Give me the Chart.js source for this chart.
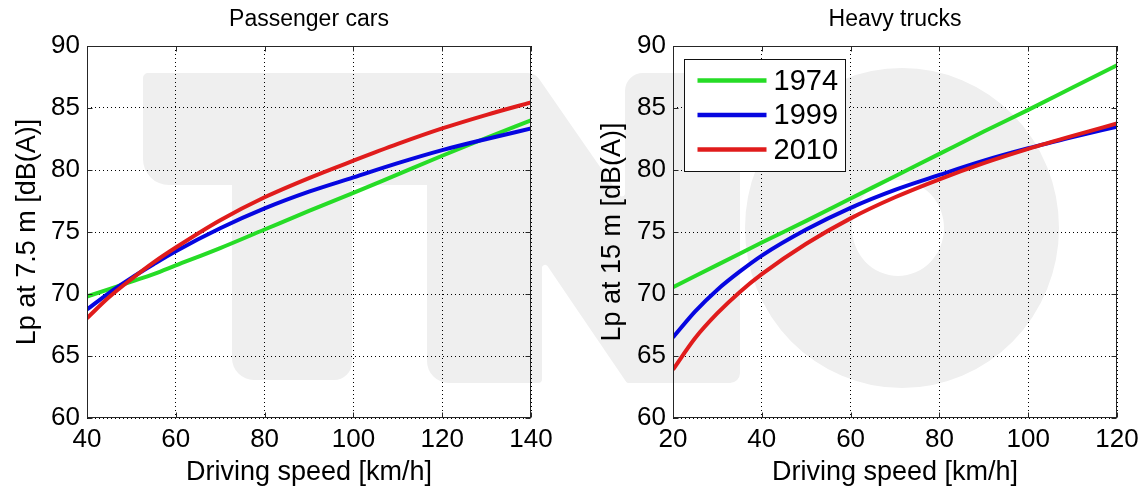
<!DOCTYPE html>
<html><head><meta charset="utf-8">
<script src="https://cdn.jsdelivr.net/npm/chart.js@4.4.1/dist/chart.umd.min.js"></script>
<style>
html,body{margin:0;padding:0;background:#fff;overflow:hidden;}
#wrap{position:relative;width:1142px;height:490px;}
canvas{position:absolute;top:0;}
</style></head><body>
<div id="wrap">
<canvas id="c1" width="571" height="490" style="left:0px"></canvas>
<canvas id="c2" width="571" height="490" style="left:571px"></canvas>
</div>
<script>
// ---------------- data ----------------
const seriesLabels = ['1974', '1999', '2010'];

const carSpeeds = [40, 45, 50, 55, 60, 70, 80, 90, 100, 110, 120, 130, 140];
const car1974 = [69.8, 70.4, 71.0, 71.6, 72.3, 73.7, 75.2, 76.7, 78.15, 79.65, 81.15, 82.6, 84.0];
const car1999 = [68.75, 70.1, 71.3, 72.4, 73.45, 75.3, 76.9, 78.25, 79.4, 80.55, 81.6, 82.5, 83.35];
const car2010 = [68.05, 69.75, 71.2, 72.55, 73.75, 75.95, 77.8, 79.35, 80.75, 82.1, 83.35, 84.45, 85.45];

const truckSpeeds = [20, 25, 30, 35, 40, 50, 60, 70, 80, 90, 100, 110, 120];
const truck1974 = [70.55, 71.45, 72.35, 73.25, 74.15, 75.9, 77.7, 79.5, 81.3, 83.1, 84.85, 86.65, 88.45];
const truck1999 = [66.5, 68.6, 70.35, 71.8, 73.1, 75.2, 76.95, 78.4, 79.6, 80.75, 81.75, 82.65, 83.5];
const truck2010 = [63.9, 66.45, 68.45, 70.15, 71.6, 74.05, 76.1, 77.8, 79.25, 80.55, 81.7, 82.75, 83.75];

const carXTicks = [40, 60, 80, 100, 120, 140];
const truckXTicks = [20, 40, 60, 80, 100, 120];
const yTicks = [60, 65, 70, 75, 80, 85, 90];

// ---------------- styles ----------------
const COLORS = ['#26dc26', '#0606e0', '#e01c1c'];
const FONT = "'Liberation Sans', Arial, sans-serif";
const WM = '#efefef';

function roundPoly(ctx, pts) {
  const n = pts.length;
  const a = pts[n - 1], b = pts[0];
  ctx.moveTo((a[0] + b[0]) / 2, (a[1] + b[1]) / 2);
  for (let i = 0; i < n; i++) {
    const p = pts[i], q = pts[(i + 1) % n];
    ctx.arcTo(p[0], p[1], q[0], q[1], p[2] || 0.01);
  }
  ctx.closePath();
}

function drawWatermark(ctx, offX) {
  ctx.save();
  ctx.translate(-offX, 0);
  ctx.fillStyle = WM;
  // T
  ctx.beginPath();
  roundPoly(ctx, [[143,73,5],[441,73,0],[441,185,0],[352,185,0],[352,380,18],[232,380,22],[232,185,0],[143,185,26]]);
  ctx.fill();
  // N
  ctx.beginPath();
  roundPoly(ctx, [[427,73,0],[535,73,14],[625,203,3],[625,73,18],[740,73,10],[740,383,10],[627,383,3],[542,258,3],[542,383,4],[427,383,22]]);
  ctx.fill();
  // O
  ctx.beginPath();
  ctx.ellipse(902, 228, 157, 160, 0, 0, Math.PI * 2);
  ctx.moveTo(898 + 46, 228);
  ctx.ellipse(898, 228, 46, 48, 0, 0, Math.PI * 2);
  ctx.fill('evenodd');
  ctx.restore();
}

function makePlugin(offX, title, withLegend) {
  return {
    id: 'deco' + offX,
    beforeDraw(chart) { drawWatermark(chart.ctx, offX); },
    afterDatasetsDraw(chart) {
      const ctx = chart.ctx, a = chart.chartArea;
      const xs = chart.scales.x, ys = chart.scales.y;
      ctx.save();
      ctx.strokeStyle = '#262626';
      ctx.lineWidth = 1;
      const L = Math.round(a.left) + 0.5, R = Math.round(a.right) - 0.5;
      const T = Math.round(a.top) + 0.5, B = Math.round(a.bottom) - 0.5;
      ctx.strokeRect(L, T, R - L, B - T);
      ctx.beginPath();
      xs.ticks.forEach(t => {
        const x = Math.round(xs.getPixelForValue(t.value)) + 0.5;
        ctx.moveTo(x, B); ctx.lineTo(x, B - 5);
        ctx.moveTo(x, T); ctx.lineTo(x, T + 5);
      });
      ys.ticks.forEach(t => {
        const y = Math.round(ys.getPixelForValue(t.value)) + 0.5;
        ctx.moveTo(L, y); ctx.lineTo(L + 5, y);
        ctx.moveTo(R, y); ctx.lineTo(R - 5, y);
      });
      ctx.stroke();
      ctx.restore();
    },
    afterDraw(chart) {
      const ctx = chart.ctx, a = chart.chartArea;
      ctx.save();
      ctx.fillStyle = '#000';
      ctx.font = '23px ' + FONT;
      ctx.textAlign = 'center';
      ctx.textBaseline = 'alphabetic';
      ctx.fillText(title, (a.left + a.right) / 2, 26);
      if (withLegend) {
        const bx = Math.round(a.left + 11) + 0.5, by = Math.round(a.top + 13) + 0.5;
        ctx.fillStyle = '#fff';
        ctx.fillRect(bx, by, 161, 112);
        ctx.strokeStyle = '#111';
        ctx.lineWidth = 1;
        ctx.strokeRect(bx, by, 161, 112);
        ctx.font = '29px ' + FONT;
        ctx.textAlign = 'left';
        ctx.textBaseline = 'middle';
        chart.data.datasets.forEach((ds, i) => {
          const y = by + 21 + i * 34.5;
          ctx.strokeStyle = ds.borderColor;
          ctx.lineWidth = 4.5;
          ctx.beginPath();
          ctx.moveTo(bx + 13, y); ctx.lineTo(bx + 82, y);
          ctx.stroke();
          ctx.fillStyle = '#000';
          ctx.fillText(ds.label, bx + 89, y + 1);
        });
      }
      ctx.restore();
    }
  };
}

function buildChart(canvasId, offX, xs, series, xTicks, yLabel, title, yWidth, yTitlePad, rightPad, withLegend) {
  const datasets = series.map((vals, i) => ({
    label: seriesLabels[i],
    data: xs.map((x, k) => ({ x: x, y: vals[k] })),
    borderColor: COLORS[i],
    backgroundColor: COLORS[i],
    borderWidth: 4,
    pointRadius: 0,
    tension: 0.4,
    cubicInterpolationMode: 'monotone',
    order: series.length - i
  }));
  return new Chart(document.getElementById(canvasId), {
    type: 'line',
    data: { datasets },
    plugins: [makePlugin(offX, title, withLegend)],
    options: {
      responsive: false,
      animation: false,
      events: [],
      layout: { padding: { left: 0, right: rightPad, top: 46, bottom: 0 } },
      plugins: { legend: { display: false }, tooltip: { enabled: false }, title: { display: false } },
      scales: {
        x: {
          type: 'linear',
          min: xTicks[0], max: xTicks[xTicks.length - 1],
          afterBuildTicks: s => { s.ticks = xTicks.map(v => ({ value: v })); },
          afterFit: s => { s.height = 72; s.paddingLeft = 0; s.paddingRight = 0; },
          grid: { color: '#000', lineWidth: 1, drawTicks: false },
          border: { display: false, dash: [1, 3] },
          ticks: { color: '#000', padding: 6, font: { family: FONT, size: 26, lineHeight: 1.2 } },
          title: { display: true, text: 'Driving speed [km/h]', color: '#000', padding: { top: 0, bottom: 1 },
                   font: { family: FONT, size: 27, lineHeight: 1.2 } }
        },
        y: {
          type: 'linear',
          min: yTicks[0], max: yTicks[yTicks.length - 1],
          afterBuildTicks: s => { s.ticks = yTicks.map(v => ({ value: v })); },
          afterFit: s => { s.width = yWidth; s.paddingTop = 0; s.paddingBottom = 0; },
          grid: { color: '#000', lineWidth: 1, drawTicks: false },
          border: { display: false, dash: [1, 3] },
          ticks: { color: '#000', padding: 7, font: { family: FONT, size: 26, lineHeight: 1.2 } },
          title: { display: true, text: yLabel, color: '#000', padding: { top: yTitlePad, bottom: 0 },
                   font: { family: FONT, size: 27, lineHeight: 1.2 } }
        }
      }
    }
  });
}

buildChart('c1', 0, carSpeeds, [car1974, car1999, car2010], carXTicks,
  'Lp at 7.5 m [dB(A)]', 'Passenger cars', 87, 11, 40, false);
buildChart('c2', 571, truckSpeeds, [truck1974, truck1999, truck2010], truckXTicks,
  'Lp at 15 m [dB(A)]', 'Heavy trucks', 102, 25, 25, true);
</script>
</body></html>
